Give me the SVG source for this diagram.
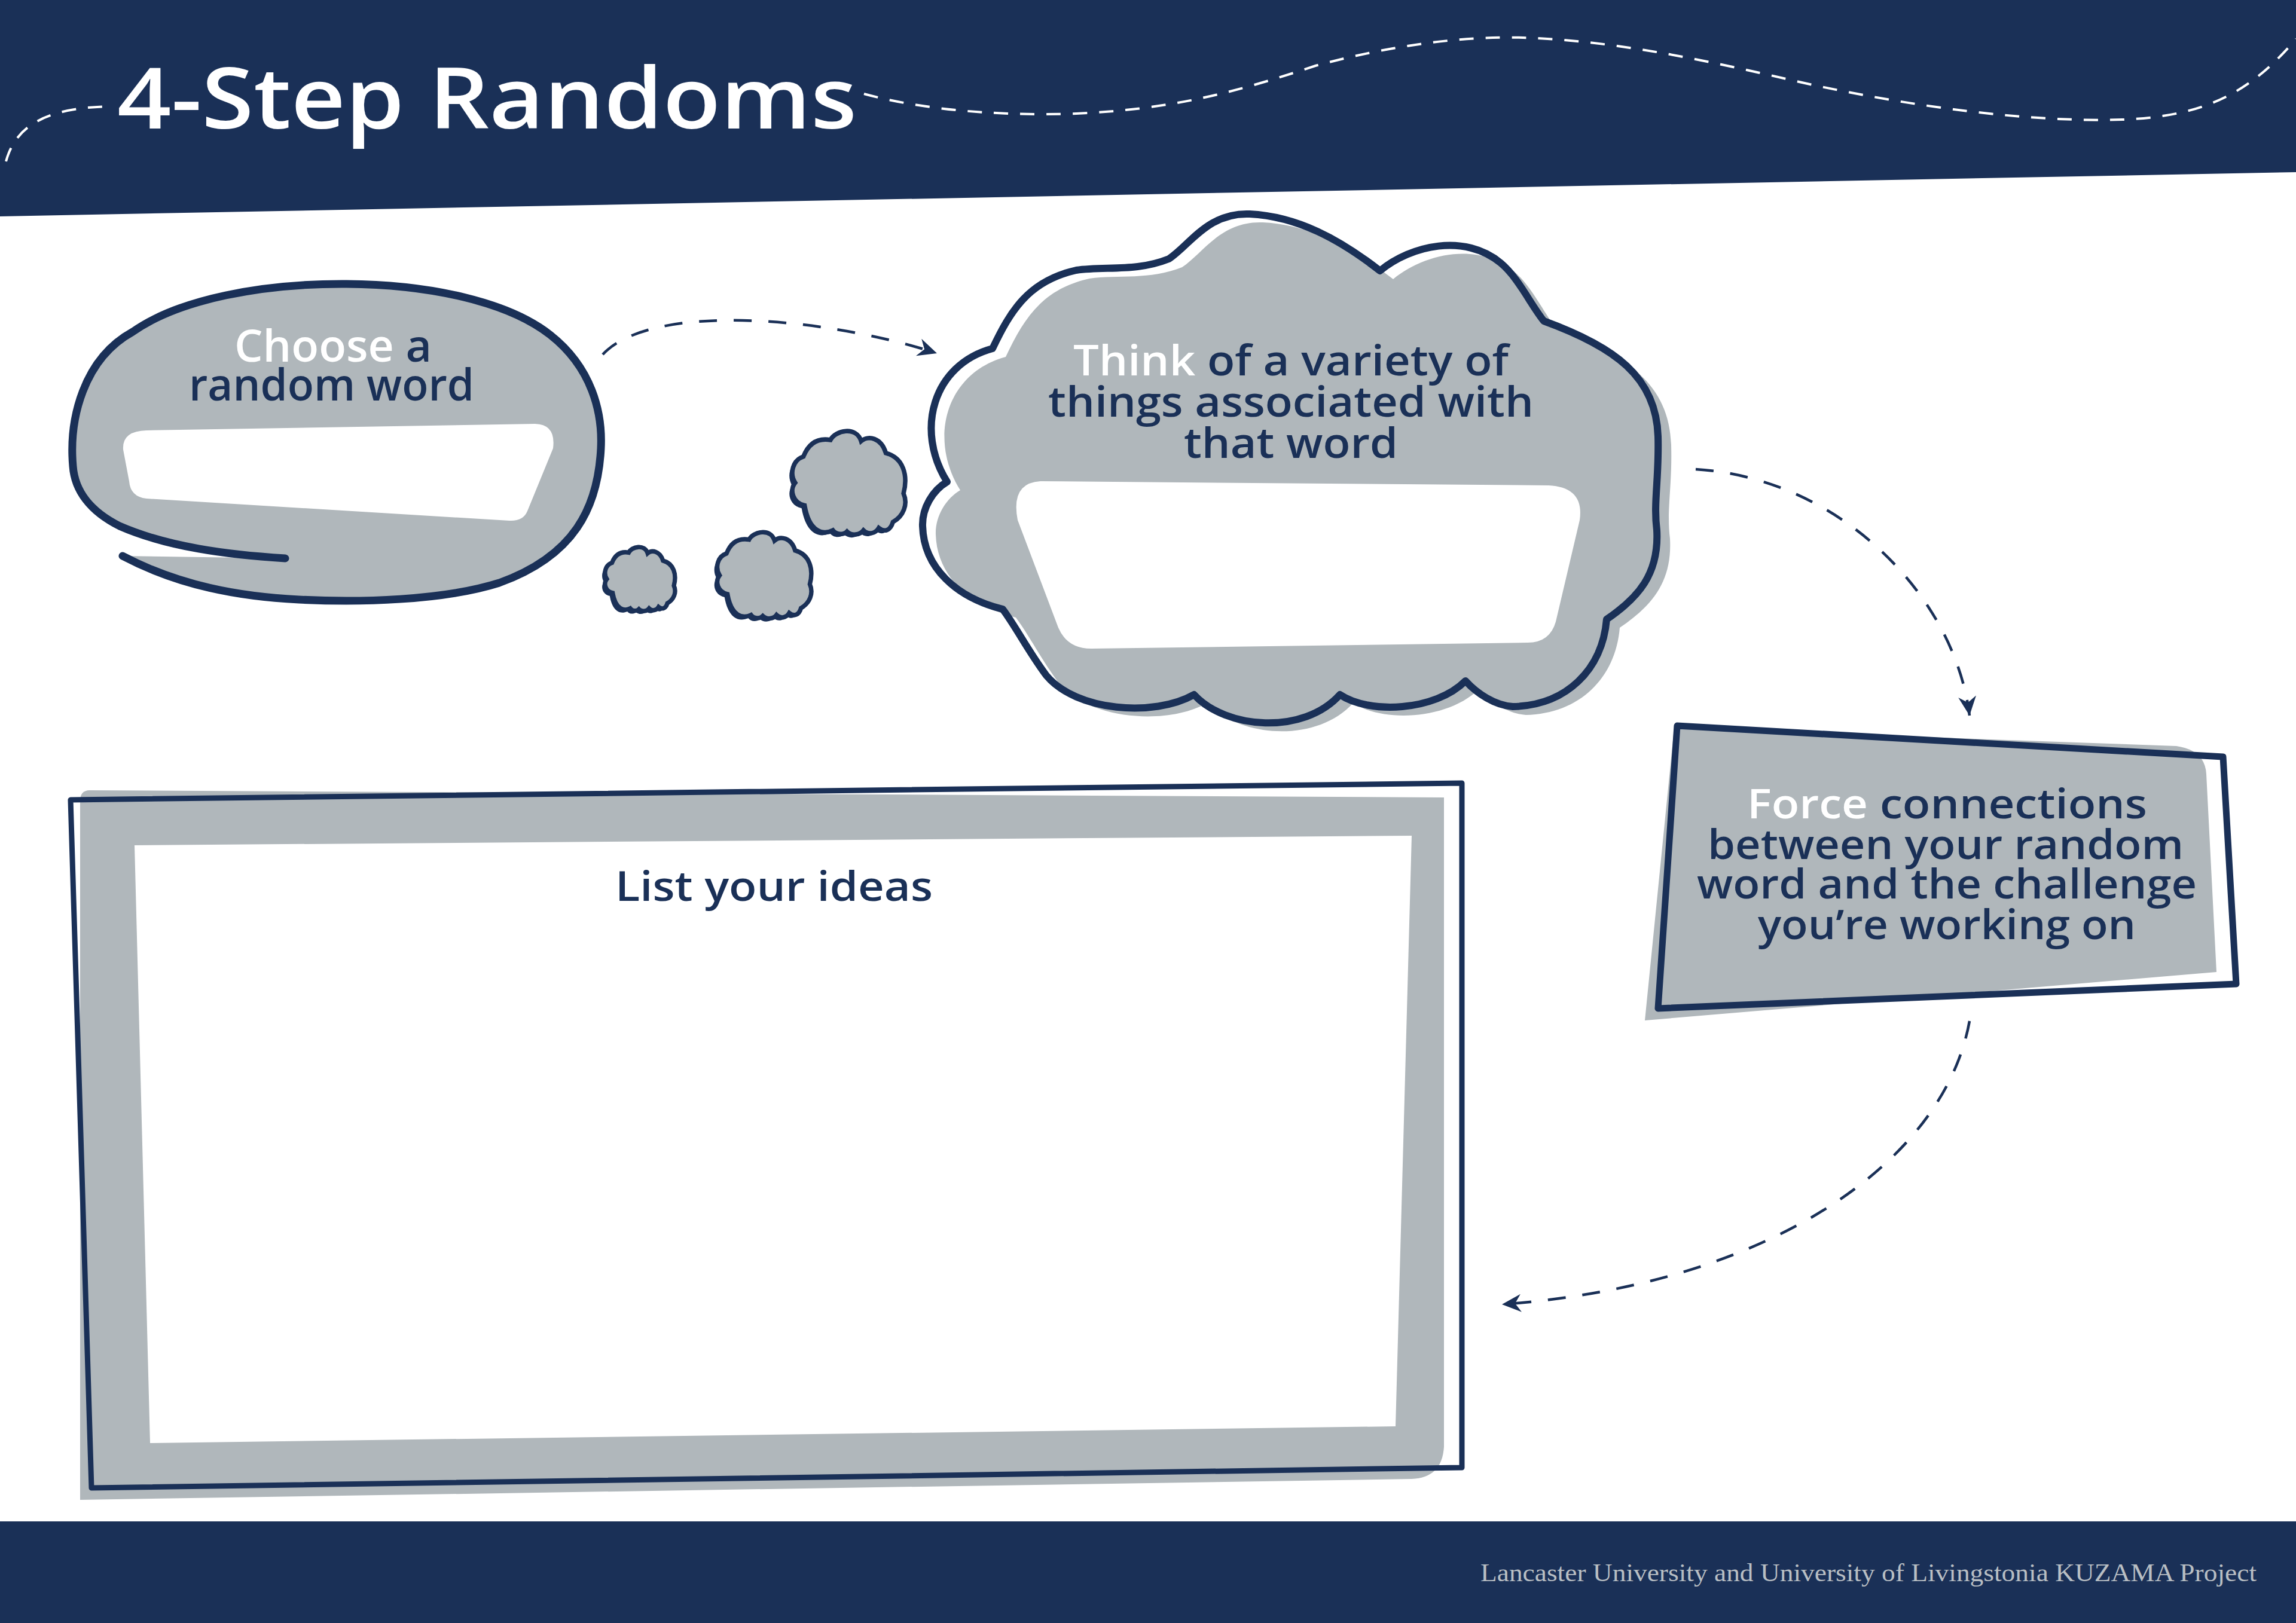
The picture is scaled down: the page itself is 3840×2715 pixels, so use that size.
<svg xmlns="http://www.w3.org/2000/svg" width="3840" height="2715" viewBox="0 0 3840 2715">
<style>
.navy{fill:#1a3057}
.gray{fill:#b0b7bb}
.ol{fill:none;stroke:#1a3057;stroke-linecap:round;stroke-linejoin:round}
.t{font-family:"Open Sans","Lato","DejaVu Sans",sans-serif;font-weight:600;fill:#1a3057}
.w{fill:#ffffff}
.conn{fill:none;stroke:#1a3057;stroke-width:4.5;stroke-dasharray:30 28}
.wave{fill:none;stroke:#ffffff;stroke-width:4;stroke-dasharray:24 20}
</style>
<defs>
<marker id="arr" viewBox="-34 -17 36 34" refX="0" refY="0" markerWidth="36" markerHeight="34" markerUnits="userSpaceOnUse" orient="auto">
<path d="M0 0 L-32 -15 L-22 0 L-32 15 Z" fill="#1a3057"/>
</marker>
<path id="cloud" d="M 34 10 C 38 2, 56 -2, 60 11 C 66 6, 77 8, 81 21 C 96 25, 100 40, 96 55 C 100 64, 96 74, 87 79 C 85 86, 80 88, 75 84 C 72 89, 66 90, 62 86 C 59 90, 52 91, 48 87 C 45 90, 39 90, 36 86 C 28 90, 16 88, 12 65 C 2 63, -1 52, 4 46 C -1 38, 2 27, 11 24 C 15 14, 22 8, 34 10 Z"/>
</defs>
<rect width="3840" height="2715" fill="#ffffff"/>

<g id="header">
<path class="navy" d="M0 0 H3840 V288 L0 362 Z"/>
<path class="wave" d="M 10 270 C 25 215, 70 180, 185 178"/>
<path class="wave" d="M 1445 157 C 1530 180, 1650 195, 1800 190 C 1950 183, 2050 160, 2200 110 C 2330 75, 2450 60, 2547 63 C 2700 68, 2850 100, 3000 135 C 3200 180, 3400 205, 3550 200 C 3680 195, 3760 160, 3840 65"/>
<text x="196" y="215" font-family="'Open Sans','Lato',sans-serif" font-weight="600" font-size="142" fill="#ffffff" textLength="1237" lengthAdjust="spacingAndGlyphs">4-Step Randoms</text>
</g>

<g id="footer">
<rect class="navy" x="0" y="2545" width="3840" height="170"/>
<text x="2476" y="2645" font-family="'Liberation Serif','Times New Roman',serif" font-size="42" fill="#b8bec3" textLength="1298" lengthAdjust="spacingAndGlyphs">Lancaster University and University of Livingstonia KUZAMA Project</text>
</g>

<g id="connectors">
<path class="conn" d="M 1008 593 C 1090 505, 1380 530, 1567 591" marker-end="url(#arr)"/>
<path class="conn" d="M 2836 785 C 3080 800, 3270 1000, 3294 1197" marker-end="url(#arr)"/>
<path class="conn" d="M 3294 1708 C 3250 1950, 2950 2150, 2512 2182" marker-end="url(#arr)"/>
</g>

<g id="node-choose">
<path class="gray" d="M 477 934 C 380 928, 280 915, 200 880 C 150 855, 125 820, 122 780 C 115 700, 140 600, 222 555 C 300 500, 440 474, 580 475 C 720 476, 850 505, 920 560 C 990 615, 1008 690, 1005 750 C 1000 850, 960 930, 835 975 C 740 1005, 600 1008, 500 1003 C 400 998, 300 980, 205 930 Z"/>
<path class="ol" stroke-width="13" d="M 477 934 C 380 928, 280 915, 200 880 C 150 855, 125 820, 122 780 C 115 700, 140 600, 222 555 C 300 500, 440 474, 580 475 C 720 476, 850 505, 920 560 C 990 615, 1008 690, 1005 750 C 1000 850, 960 930, 835 975 C 740 1005, 600 1008, 500 1003 C 400 998, 300 980, 205 930"/>
<path class="w" d="M 245 720 L 895 709 Q 930 710 925 750 L 882 855 Q 875 872 852 871 L 245 834 Q 218 831 216 805 L 206 752 Q 204 721 245 720 Z"/>
<text class="t" font-size="74"><tspan x="392" y="605" textLength="330" lengthAdjust="spacingAndGlyphs"><tspan class="w">Choose</tspan> a</tspan><tspan x="316" y="670" textLength="477" lengthAdjust="spacingAndGlyphs">random word</tspan></text>
</g>

<g id="thought-clouds">
<g transform="translate(1010,912) scale(1.22,1.23)">
<use href="#cloud" transform="translate(-4,4)" fill="#1a3057"/>
<use href="#cloud" fill="#b0b7bb" stroke="#1a3057" stroke-width="6"/>
</g>
<g transform="translate(1197,886) scale(1.64,1.66)">
<use href="#cloud" transform="translate(-3,3)" fill="#1a3057"/>
<use href="#cloud" fill="#b0b7bb" stroke="#1a3057" stroke-width="4.5"/>
</g>
<g transform="translate(1322,716) scale(1.97,1.99)">
<use href="#cloud" transform="translate(-2.5,2.5)" fill="#1a3057"/>
<use href="#cloud" fill="#b0b7bb" stroke="#1a3057" stroke-width="3.8"/>
</g>
</g>

<g id="node-think">
<path class="gray" transform="translate(22,14)" d="M 1584 806 C 1530 720, 1560 610, 1660 583 C 1690 520, 1720 470, 1800 452 C 1850 445, 1900 455, 1955 433 C 1990 410, 2020 355, 2090 358 C 2170 362, 2240 400, 2308 453 C 2360 410, 2450 390, 2510 440 C 2540 465, 2560 510, 2582 537 C 2700 580, 2770 630, 2773 730 C 2775 800, 2765 840, 2771 887 C 2775 960, 2740 1000, 2687 1036 C 2680 1120, 2620 1180, 2530 1182 C 2500 1180, 2470 1160, 2451 1139 C 2400 1190, 2290 1195, 2241 1162 C 2180 1230, 2050 1220, 1997 1162 C 1930 1200, 1800 1190, 1750 1130 C 1720 1090, 1700 1050, 1677 1019 C 1600 1000, 1545 950, 1543 880 C 1542 850, 1560 820, 1584 806 Z"/>
<path class="ol" stroke-width="12" d="M 1584 806 C 1530 720, 1560 610, 1660 583 C 1690 520, 1720 470, 1800 452 C 1850 445, 1900 455, 1955 433 C 1990 410, 2020 355, 2090 358 C 2170 362, 2240 400, 2308 453 C 2360 410, 2450 390, 2510 440 C 2540 465, 2560 510, 2582 537 C 2700 580, 2770 630, 2773 730 C 2775 800, 2765 840, 2771 887 C 2775 960, 2740 1000, 2687 1036 C 2680 1120, 2620 1180, 2530 1182 C 2500 1180, 2470 1160, 2451 1139 C 2400 1190, 2290 1195, 2241 1162 C 2180 1230, 2050 1220, 1997 1162 C 1930 1200, 1800 1190, 1750 1130 C 1720 1090, 1700 1050, 1677 1019 C 1600 1000, 1545 950, 1543 880 C 1542 850, 1560 820, 1584 806 Z"/>
<path class="w" d="M 1740 805 L 2590 812 Q 2650 815 2642 870 L 2602 1040 Q 2592 1075 2555 1075 L 1825 1085 Q 1785 1085 1770 1050 L 1702 870 Q 1690 808 1740 805 Z"/>
<text class="t" font-size="70"><tspan x="1795" y="628" textLength="728" lengthAdjust="spacingAndGlyphs"><tspan class="w">Think</tspan> of a variety of</tspan><tspan x="1753" y="697" textLength="812" lengthAdjust="spacingAndGlyphs">things associated with</tspan><tspan x="1980" y="766" textLength="358" lengthAdjust="spacingAndGlyphs">that word</tspan></text>
</g>

<g id="node-force">
<path class="gray" d="M 2800 1218 L 3640 1248 Q 3688 1255 3690 1295 L 3707 1626 L 2751 1707 Z"/>
<path class="ol" stroke-width="11" d="M 2805 1214 L 3718 1266 L 3740 1646 L 2773 1687 Z"/>
<text class="t" font-size="68"><tspan x="2922" y="1369" textLength="669" lengthAdjust="spacingAndGlyphs"><tspan class="w">Force</tspan> connections</tspan><tspan x="2856" y="1437" textLength="796" lengthAdjust="spacingAndGlyphs">between your random</tspan><tspan x="2838" y="1503" textLength="836" lengthAdjust="spacingAndGlyphs">word and the challenge</tspan><tspan x="2940" y="1571" textLength="632" lengthAdjust="spacingAndGlyphs">you’re working on</tspan></text>
</g>

<g id="node-list">
<path class="gray" d="M 150 1322 L 2415 1334 L 2415 2420 Q 2412 2472 2361 2474 L 134 2509 L 134 1340 Q 134 1322 150 1322 Z"/>
<path class="w" d="M 225 1414 L 2361 1398 L 2334 2386 L 251 2414 Z"/>
<path class="ol" stroke-width="9" d="M 118 1338 L 2445 1310 L 2445 2455 L 153 2489 Z"/>
<text class="t" x="1029" y="1507" font-size="68" textLength="531" lengthAdjust="spacingAndGlyphs">List your ideas</text>
</g>
</svg>
